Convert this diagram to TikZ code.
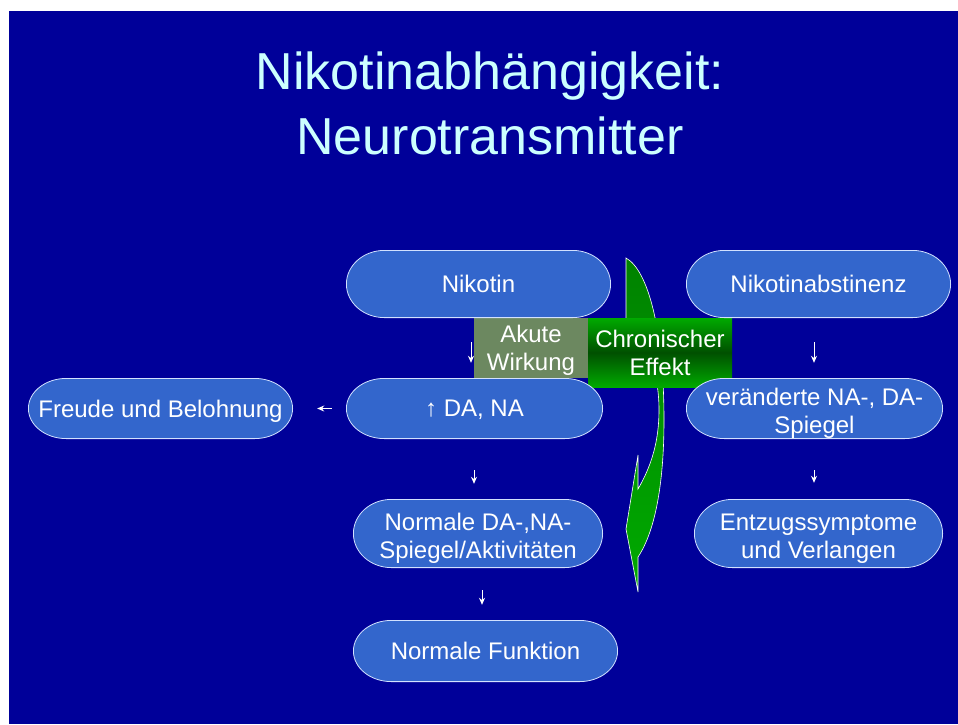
\documentclass[tikz,border=0pt]{standalone}
\usepackage{fontspec}
\setmainfont{Liberation Sans}
\usetikzlibrary{arrows.meta}
\definecolor{bgblue}{RGB}{0,0,153}
\definecolor{boxblue}{RGB}{51,102,204}
\definecolor{boxline}{RGB}{210,225,255}
\definecolor{titlecol}{RGB}{204,255,255}
\definecolor{akutecol}{RGB}{108,136,96}
\definecolor{brightgreen}{RGB}{0,170,0}
\definecolor{darkgreen}{RGB}{0,80,0}
\definecolor{midgreen}{RGB}{0,130,0}
\tikzset{
  bluebox/.style 2 args={minimum width=#1pt, minimum height=#2pt, inner sep=0pt,
    text=white, align=center, font=\fontsize{24}{28}\selectfont,
    path picture={
      \path[fill=boxblue, draw=boxline, line width=0.8pt]
        ([xshift=38.4pt,yshift=-0.4pt]path picture bounding box.north west)
        -- ([xshift=-38.4pt,yshift=-0.4pt]path picture bounding box.north east)
        arc[start angle=90, end angle=-90, x radius=38pt, y radius={(#2/2-0.4)*1pt}]
        -- ([xshift=38.4pt,yshift=0.4pt]path picture bounding box.south west)
        arc[start angle=270, end angle=90, x radius=38pt, y radius={(#2/2-0.4)*1pt}]
        -- cycle;
    }},
  oneline/.style={text depth=0pt},
  twoline/.style={text height=55.6pt},
  labelbox/.style={inner sep=0pt, text=white, align=center, font=\fontsize{24}{28}\selectfont},
  smallarrow/.style={draw=white, line width=1pt, -{Stealth[length=7pt,width=6pt]}},
  titletext/.style={text=titlecol, font=\fontsize{52}{65}\selectfont, inner sep=0pt, anchor=base}
}
\begin{document}
\begin{tikzpicture}[x=1pt,y=-1pt]
\useasboundingbox (0,0) rectangle (958,724);
\fill[white] (0,0) rectangle (958,724);
\fill[bgblue] (9,11) rectangle (958,724);

% title
\node[titletext] (t1) at (490,89) {Nikotinabhängigkeit:};
\node[titletext] (t2) at (490,154) {Neurotransmitter};

% green curved arrow
\path[draw=white, line width=0.6pt, top color=midgreen, bottom color=brightgreen]
  (626,258) .. controls (648,270) and (664,330) .. (664,420)
  .. controls (664,480) and (656,530) .. (638,557)
  -- (638,592) -- (626,529) -- (638,455) -- (638,489)
  .. controls (652,465) and (659,440) .. (659,410)
  .. controls (659,370) and (645,335) .. (626,318) -- cycle;

% label boxes
\node[labelbox, fill=akutecol, minimum width=114pt, minimum height=60pt, text height=50.6pt] (akute) at (531,348) {Akute\\Wirkung};
\node[labelbox, top color=brightgreen, bottom color=brightgreen, middle color=darkgreen,
      minimum width=144pt, minimum height=69pt] (chron) at (660,352.5) {Chronischer\\Effekt};

% blue boxes
\node[bluebox={265}{68}, oneline] (nik) at (478.5,284) {Nikotin};
\node[bluebox={265}{68}, oneline] (abst) at (818.5,284) {Nikotinabstinenz};
\node[bluebox={265}{61}, oneline] (freude) at (160.5,408.5) {Freude und Belohnung};
\node[bluebox={257}{61}, oneline] (da) at (474.5,408.5) {↑ DA, NA};
\node[bluebox={257}{61}, twoline] (ver) at (814.5,408.5) {veränderte NA-, DA-\\Spiegel};
\node[bluebox={250}{69}, twoline] (norm) at (478,533.5) {Normale DA-,NA-\\Spiegel/Aktivitäten};
\node[bluebox={249}{69}, twoline] (entz) at (818.5,533.5) {Entzugssymptome\\und Verlangen};
\node[bluebox={265}{62}, oneline] (funk) at (485.5,651) {Normale Funktion};

% small arrows
\draw[smallarrow, shorten <=24pt, shorten >=15pt] ([xshift=-7.5pt]nik.south) -- ([xshift=-3.5pt]da.north);
\draw[smallarrow, shorten <=24pt, shorten >=15pt] ([xshift=-4.5pt]abst.south) -- ([xshift=-0.5pt]ver.north);
\draw[smallarrow, shorten <=31pt, shorten >=15pt] ([xshift=-0.5pt]da.south) -- ([xshift=-4pt]norm.north);
\draw[smallarrow, shorten <=31pt, shorten >=16pt] ([xshift=-0.5pt]ver.south) -- ([xshift=-4.5pt]entz.north);
\draw[smallarrow, shorten <=22pt, shorten >=15pt] ([xshift=4pt]norm.south) -- ([xshift=-3.5pt]funk.north);
\draw[smallarrow, shorten <=14pt, shorten >=24pt] (da.west) -- (freude.east);
\end{tikzpicture}
\end{document}
